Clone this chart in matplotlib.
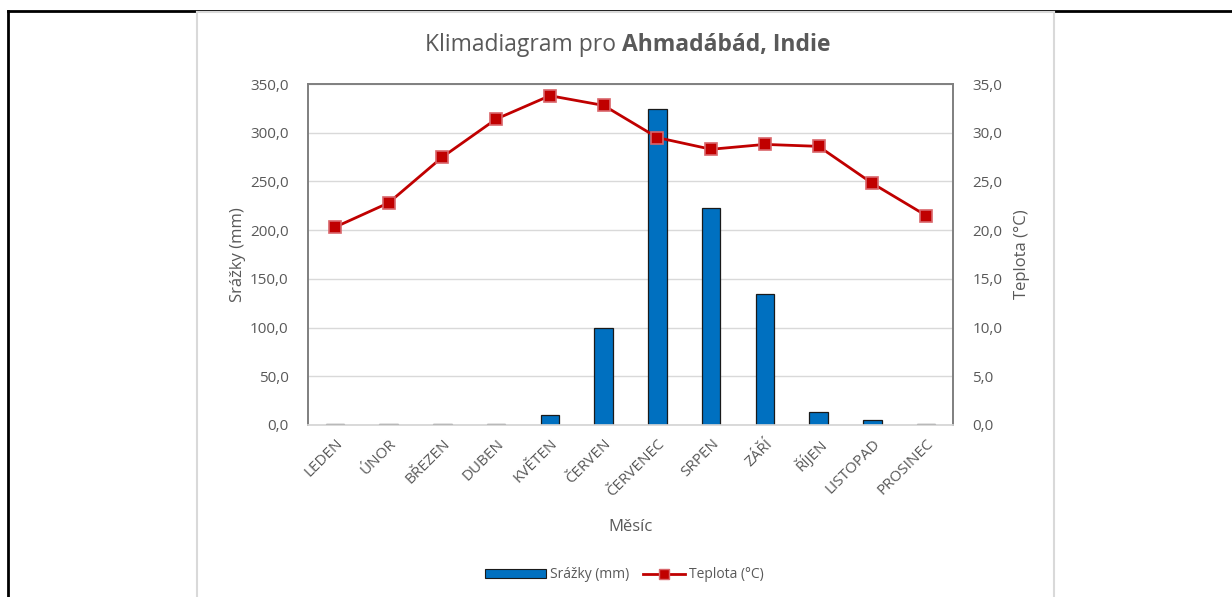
import matplotlib.pyplot as plt
from matplotlib.lines import Line2D
from matplotlib.patches import Patch, Rectangle
from matplotlib.legend_handler import HandlerPatch
from matplotlib.ticker import FuncFormatter, MultipleLocator

months = ["LEDEN", "ÚNOR", "BŘEZEN", "DUBEN", "KVĚTEN", "ČERVEN",
          "ČERVENEC", "SRPEN", "ZÁŘÍ", "ŘÍJEN", "LISTOPAD", "PROSINEC"]
srazky = [1.5, 1.5, 1.5, 1.5, 10.3, 100.0, 324.0, 222.7, 134.5, 13.3, 5.5, 1.5]
teplota = [20.3, 22.8, 27.5, 31.4, 33.8, 32.8, 29.5, 28.3, 28.8, 28.6, 24.8, 21.5]

plt.rcParams['font.family'] = ['Open Sans', 'DejaVu Sans']
txt = '#595959'
grid = '#d9d9d9'

fig = plt.figure(figsize=(12.32, 5.97), dpi=100)
W, H = 1232, 597

# outer frame lines (black) and chart area border (light gray)
fig.add_artist(Line2D([8 / W, 8 / W], [0, 1 - 11 / H], color='black', lw=2))
fig.add_artist(Line2D([8 / W, 1], [1 - 11 / H, 1 - 11 / H], color='black', lw=2))
for xp in (197, 1054):
    fig.add_artist(Line2D([xp / W, xp / W], [0, 1 - 12 / H], color='#d9d9d9', lw=1.5))
fig.add_artist(Line2D([197 / W, 1054 / W], [1 - 12 / H, 1 - 12 / H], color='#d9d9d9', lw=1.5))

ax = fig.add_axes([308 / W, 1 - 425 / H, (953 - 308) / W, (425 - 84) / H])
ax2 = ax.twinx()

x = list(range(len(months)))
ax.bar(x, srazky, width=0.34, color='#0070C0', edgecolor='#1a1a1a', linewidth=0.9, zorder=3)
ax2.plot(x, teplota, color='#C00000', lw=2.0, marker='s', markersize=9,
         markerfacecolor='#C00000', markeredgecolor='#d9666b', markeredgewidth=1.2, zorder=4)

ax.set_xlim(-0.5, 11.5)
ax.set_ylim(0, 350)
ax2.set_ylim(0, 35)
ax.yaxis.set_major_locator(MultipleLocator(50))
ax2.yaxis.set_major_locator(MultipleLocator(5))
fmt = FuncFormatter(lambda v, p: f"{v:.1f}".replace('.', ','))
ax.yaxis.set_major_formatter(fmt)
ax2.yaxis.set_major_formatter(fmt)
ax.grid(axis='y', color=grid, lw=1, zorder=0)
ax.set_axisbelow(True)

ax.set_xticks(x)
ax.set_xticklabels(months, rotation=45, ha='right', rotation_mode='anchor',
                   fontsize=11, color=txt)
ax.tick_params(axis='x', length=0, pad=8)
ax.tick_params(axis='y', length=0, labelsize=11, labelcolor=txt, pad=14)
ax2.tick_params(axis='y', length=0, labelsize=11, labelcolor=txt, pad=14)

for a in (ax, ax2):
    for s in ('top', 'left', 'right'):
        a.spines[s].set_color('#7f7f7f')
        a.spines[s].set_linewidth(1.2)
    a.spines['bottom'].set_color(grid)
    a.spines['bottom'].set_linewidth(1.2)

ax.set_ylabel("Srážky (mm)", fontsize=12, color=txt, labelpad=3)
ax2.set_ylabel("Teplota (°C)", fontsize=12, color=txt, rotation=90, labelpad=8)
ax.set_xlabel("Měsíc", fontsize=12, color=txt, labelpad=14)

fig.text(622 / W, 1 - 45 / H, "Klimadiagram pro ", fontsize=16.5, color=txt,
         ha='right', va='center')
fig.text(622 / W, 1 - 45 / H, "Ahmadábád, Indie", fontsize=16.5, color=txt,
         ha='left', va='center', fontweight='bold')


def wide_box(legend, orig_handle, xdescent, ydescent, width, height, fontsize):
    return Rectangle((-xdescent - width * 0.45, -ydescent + height * 0.05),
                     width * 1.45, height * 0.9)


handles = [Patch(facecolor='#0070C0', edgecolor='#1a1a1a', linewidth=0.8),
           Line2D([], [], color='#C00000', lw=2.0, marker='s', markersize=7,
                  markerfacecolor='#C00000', markeredgecolor='#d9666b')]
fig.legend(handles, ["Srážky (mm)", "Teplota (°C)"], loc='center',
           bbox_to_anchor=(634 / W, 1 - 575 / H), ncol=2, frameon=False,
           fontsize=10, labelcolor=txt, handlelength=3.0, columnspacing=1.0,
           handletextpad=0.3,
           handler_map={Patch: HandlerPatch(patch_func=wide_box)})

fig.savefig("out.png", dpi=100)
